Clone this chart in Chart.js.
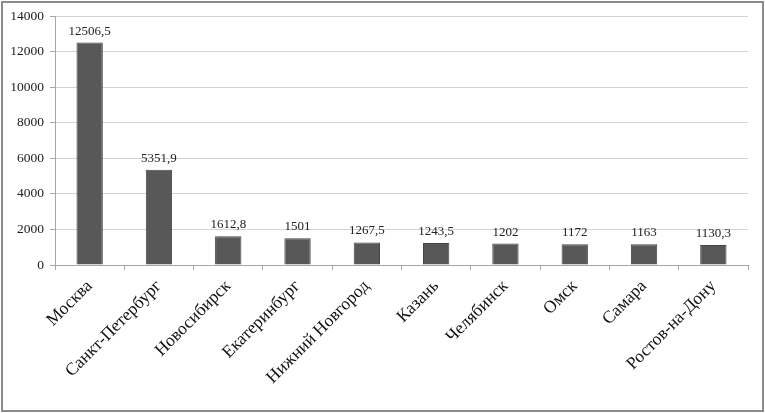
<!DOCTYPE html>
<html>
<head>
<meta charset="utf-8">
<script src="https://cdn.jsdelivr.net/npm/chart.js@4.4.0/dist/chart.umd.min.js"></script>
<style>
  html, body { margin: 0; padding: 0; background: #fff; }
  #wrap { width: 765px; height: 413px; }
</style>
</head>
<body>
<div id="wrap"><canvas id="cityChart" width="765" height="413"></canvas></div>
<script>
const cities = ['Москва', 'Санкт-Петербург', 'Новосибирск', 'Екатеринбург', 'Нижний Новгород',
    'Казань', 'Челябинск', 'Омск', 'Самара', 'Ростов-на-Дону'];
const values = [12506.5, 5351.9, 1612.8, 1501, 1267.5, 1243.5, 1202, 1172, 1163, 1130.3];
const yTicks = [0, 2000, 4000, 6000, 8000, 10000, 12000, 14000];

// подписи значений над столбцами
const valueLabels = {
    id: 'valueLabels',
    afterDatasetsDraw(chart) {
        const ctx = chart.ctx;
        const meta = chart.getDatasetMeta(0);
        ctx.save();
        ctx.font = '13px "Liberation Serif", serif';
        ctx.fillStyle = '#222';
        ctx.textAlign = 'center';
        ctx.textBaseline = 'alphabetic';
        meta.data.forEach((bar, i) => {
            const txt = String(values[i]).replace('.', ',');
            ctx.fillText(txt, bar.x, bar.y - 8);
        });
        ctx.restore();
    }
};

// рамка вокруг всей диаграммы
const frame = {
    id: 'frame',
    afterDraw(chart) {
        const ctx = chart.ctx;
        ctx.save();
        ctx.strokeStyle = '#8c8c8c';
        ctx.lineWidth = 2;
        ctx.strokeRect(2, 2, chart.width - 4, chart.height - 4);
        ctx.restore();
    }
};

new Chart(document.getElementById('cityChart').getContext('2d'), {
    type: 'bar',
    data: {
        labels: cities,
        datasets: [{
            data: values,
            backgroundColor: '#585858',
            borderColor: '#444',
            borderWidth: 1,
            categoryPercentage: 1,
            barPercentage: 0.38
        }]
    },
    options: {
        responsive: false,
        animation: false,
        layout: { padding: { left: 0, top: 16, right: 17, bottom: 0 } },
        plugins: {
            legend: { display: false },
            tooltip: { enabled: false }
        },
        scales: {
            x: {
                afterFit: s => { s.height = 148; },
                grid: {
                    offset: true,
                    drawOnChartArea: false,
                    drawTicks: true,
                    tickLength: 5,
                    color: '#a6a6a6'
                },
                border: { color: '#a6a6a6' },
                ticks: {
                    minRotation: 45,
                    maxRotation: 45,
                    padding: 6,
                    color: '#111',
                    font: { family: '"Liberation Serif", serif', size: 17.5 }
                }
            },
            y: {
                min: 0,
                max: 14000,
                afterFit: s => { s.width = 55; },
                afterBuildTicks: s => { s.ticks = yTicks.map(v => ({ value: v })); },
                grid: {
                    color: '#d4d4d4',
                    tickLength: 5,
                    tickColor: '#a6a6a6'
                },
                border: { color: '#a6a6a6' },
                ticks: {
                    padding: 6,
                    color: '#222',
                    callback: v => String(v),
                    font: { family: '"Liberation Serif", serif', size: 13.5 }
                }
            }
        }
    },
    plugins: [valueLabels, frame]
});
</script>
</body>
</html>
